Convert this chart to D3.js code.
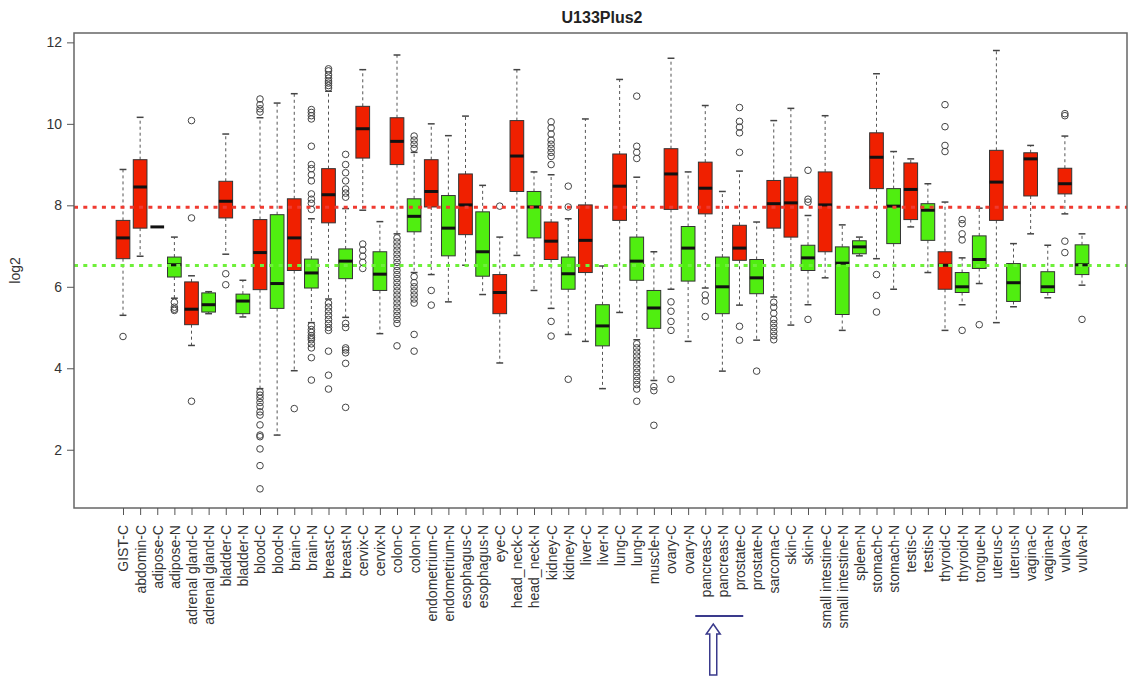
<!DOCTYPE html>
<html>
<head>
<meta charset="utf-8">
<script src="https://cdn.jsdelivr.net/npm/d3@7"></script>
<style>
  body { margin: 0; background: #fff; }
  svg { font-family: "Liberation Sans", Arial, sans-serif; }
</style>
</head>
<body>
<div id="chart"></div>
<script>
// Tissue categories (C = cancer, N = normal).
var categories = ["GIST-C", "abdomin-C", "adipose-C", "adipose-N", "adrenal gland-C", "adrenal gland-N",
  "bladder-C", "bladder-N", "blood-C", "blood-N", "brain-C", "brain-N", "breast-C", "breast-N",
  "cervix-C", "cervix-N", "colon-C", "colon-N", "endometrium-C", "endometrium-N", "esophagus-C",
  "esophagus-N", "eye-C", "head_neck-C", "head_neck-N", "kidney-C", "kidney-N", "liver-C", "liver-N",
  "lung-C", "lung-N", "muscle-N", "ovary-C", "ovary-N", "pancreas-C", "pancreas-N", "prostate-C",
  "prostate-N", "sarcoma-C", "skin-C", "skin-N", "small intestine-C", "small intestine-N", "spleen-N",
  "stomach-C", "stomach-N", "testis-C", "testis-N", "thyroid-C", "thyroid-N", "tongue-N", "uterus-C",
  "uterus-N", "vagina-C", "vagina-N", "vulva-C", "vulva-N"];

// Box statistics (log2).
var whiskerLow = [5.3, 6.75, 7.47, 5.72, 4.56, 5.34, 6.8, 5.26, 3.5, 2.36, 3.94, 5.12, 5.7, 5.25,
  7.88, 4.85, 7.3, 6.35, 6.3, 5.63, 6.53, 5.81, 4.13, 6.77, 5.91, 5.47, 4.83, 4.66, 3.5,
  5.37, 4.7, 3.7, 5.94, 4.66, 5.97, 3.93, 5.55, 4.69, 5.75, 5.06, 5.56, 6.22, 4.93, 6.76,
  6.69, 5.94, 7.47, 6.35, 4.93, 5.56, 6.08, 5.12, 5.51, 7.3, 5.73, 7.79, 6.04];
var quart1 = [6.69, 7.44, 7.47, 6.24, 5.07, 5.38, 7.69, 5.34, 5.93, 5.47, 6.4, 5.97, 7.57, 6.2,
  9.16, 5.91, 9.0, 7.35, 7.96, 6.76, 7.28, 6.26, 5.34, 8.34, 7.2, 6.67, 5.94, 6.35, 4.55,
  7.63, 6.16, 4.98, 7.9, 6.14, 7.79, 5.34, 6.65, 5.83, 7.44, 7.22, 6.4, 6.86, 5.32, 6.81,
  8.41, 7.06, 7.65, 7.14, 5.94, 5.86, 6.45, 7.63, 5.64, 8.23, 5.86, 8.28, 6.3];
var medians = [7.2, 8.45, 7.47, 6.54, 5.45, 5.56, 8.1, 5.65, 6.84, 6.08, 7.2, 6.34, 8.26, 6.63,
  9.88, 6.31, 9.57, 7.73, 8.34, 7.44, 8.01, 6.86, 5.86, 9.21, 7.96, 7.12, 6.32, 7.14, 5.04,
  8.47, 6.63, 5.48, 8.77, 6.95, 8.42, 6.0, 6.95, 6.22, 8.04, 8.06, 6.71, 8.01, 6.58, 6.98,
  9.18, 7.98, 8.39, 7.88, 6.53, 6.0, 6.67, 8.57, 6.1, 9.14, 6.0, 8.53, 6.54];
var quart3 = [7.63, 9.12, 7.47, 6.73, 6.12, 5.85, 8.59, 5.82, 7.65, 7.77, 8.16, 6.68, 8.9, 6.93,
  10.43, 6.86, 10.15, 8.16, 9.12, 8.24, 8.77, 7.84, 6.3, 10.08, 8.34, 7.59, 6.73, 8.01, 5.56,
  9.26, 7.22, 5.91, 9.39, 7.48, 9.06, 6.73, 7.51, 6.67, 8.61, 8.69, 7.02, 8.82, 6.98, 7.13,
  9.78, 8.41, 9.04, 8.04, 6.86, 6.35, 7.25, 9.35, 6.57, 9.29, 6.37, 8.91, 7.03];
var whiskerHigh = [8.88, 10.16, 7.47, 7.22, 6.27, 5.88, 9.75, 6.16, 10.15, 10.51, 10.74, 7.67, 10.8, 7.92,
  11.33, 7.6, 11.69, 9.3, 10.0, 9.71, 10.19, 8.49, 7.22, 11.33, 8.82, 8.75, 7.67, 10.12, 6.51,
  11.09, 8.69, 6.86, 11.61, 8.82, 10.45, 8.34, 8.84, 7.59, 10.08, 10.38, 7.75, 10.2, 7.52, 7.22,
  11.23, 9.32, 9.14, 8.53, 8.08, 6.71, 7.93, 11.8, 7.06, 9.47, 7.02, 9.7, 7.3];
var outliers = [
  [4.78], [], [], [5.62, 5.5, 5.45, 5.42], [10.08, 7.69, 3.19], [], [6.32, 6.05], [],
  [10.61, 10.47, 10.37, 10.29, 3.42, 3.34, 3.26, 3.16, 3.06, 2.93, 2.85, 2.61, 2.36, 2.32, 2.02, 1.61, 1.04],
  [], [3.01],
  [10.35, 10.28, 10.2, 10.12, 9.45, 9.0, 8.9, 8.75, 8.6, 8.28, 8.15, 8.05, 7.9, 5.05, 4.95, 4.88, 4.8, 4.75, 4.7, 4.6, 4.5, 4.26, 3.71],
  [11.35, 11.3, 11.2, 11.12, 11.05, 11.0, 10.94, 10.88, 5.6, 5.5, 5.4, 5.3, 5.2, 5.1, 5.0, 4.93, 4.42, 3.83, 3.49],
  [9.25, 9.0, 8.8, 8.6, 8.4, 8.3, 8.2, 5.1, 5.0, 4.5, 4.45, 4.38, 4.12, 3.04],
  [7.05, 6.9, 6.75, 6.6, 6.45], [],
  [7.2, 7.1, 7.0, 6.9, 6.8, 6.7, 6.6, 6.5, 6.4, 6.3, 6.2, 6.1, 6.0, 5.9, 5.8, 5.7, 5.6, 5.5, 5.4, 5.3, 5.2, 5.1, 4.55],
  [9.7, 9.6, 9.5, 9.4, 6.25, 6.1, 6.0, 5.9, 5.8, 5.7, 5.6, 4.83, 4.42],
  [5.91, 5.55], [], [], [], [7.98], [], [],
  [10.05, 9.9, 9.75, 9.6, 9.5, 9.4, 9.3, 9.2, 9.0, 5.15, 4.79],
  [8.47, 7.96, 3.73], [], [], [],
  [10.68, 9.45, 9.3, 9.15, 4.6, 4.5, 4.4, 4.3, 4.2, 4.1, 4.0, 3.9, 3.8, 3.7, 3.6, 3.49, 3.19],
  [3.55, 3.45, 2.6], [5.63, 5.4, 5.15, 4.93, 3.73], [], [5.8, 5.65, 5.27], [],
  [10.4, 10.06, 9.92, 9.78, 9.3, 5.03, 4.69], [3.93],
  [5.62, 5.5, 5.35, 5.2, 5.1, 5.0, 4.9, 4.8, 4.7], [], [8.86, 8.15, 8.08, 5.2], [], [], [],
  [6.3, 5.79, 5.38], [], [], [], [10.47, 9.93, 9.47, 9.32], [7.65, 7.55, 7.3, 7.15, 4.93], [5.07],
  [], [], [], [], [10.25, 10.2, 7.12, 6.84], [5.2]
];

// Reference levels (dotted lines).
var cancerLevel = 7.95;
var normalLevel = 6.52;
var yTicks = [2, 4, 6, 8, 10, 12];

// Setup plot and window margins.
var svgWidth = 1128;
var svgHeight = 679;
var margin = ({ top: 33, right: 1, bottom: 171, left: 74 });
var width = svgWidth - margin.left - margin.right;
var height = svgHeight - margin.top - margin.bottom;

var red = "#f02000";
var green = "#50ee10";

// Scales: R pads the axis range by 4% on each side.
var xScale = d3.scalePoint()
  .domain(categories)
  .range([49, 1008]);
var step = xScale.step();
var boxWidth = step * 0.8;

var yScale = d3.scaleLinear()
  .domain([0.57, 12.23])
  .range([height, 0]);

var svg = d3.select("#chart").append("svg")
  .attr("width", svgWidth)
  .attr("height", svgHeight);

var g = svg.append("g")
  .attr("transform", "translate(" + margin.left + "," + margin.top + ")");

// Title.
svg.append("text")
  .attr("x", 602)
  .attr("y", 23)
  .attr("text-anchor", "middle")
  .style("font-weight", "bold")
  .style("font-size", "16px")
  .style("fill", "#222")
  .text("U133Plus2");

// Build one record per category for the data join.
var boxes = categories.map(function(c, i) {
  return {
    name: c,
    lo: whiskerLow[i], q1: quart1[i], med: medians[i], q3: quart3[i], hi: whiskerHigh[i],
    out: outliers[i],
    fill: /-C$/.test(c) ? red : green
  };
});

var box = g.selectAll(".box")
  .data(boxes)
  .enter().append("g")
  .attr("class", "box")
  .attr("transform", function(d) { return "translate(" + xScale(d.name) + ",0)"; });

// Dashed whiskers.
box.append("line")
  .attr("y1", function(d) { return yScale(d.q3); })
  .attr("y2", function(d) { return yScale(d.hi); })
  .attr("stroke", "#555")
  .attr("stroke-dasharray", "3,3");
box.append("line")
  .attr("y1", function(d) { return yScale(d.q1); })
  .attr("y2", function(d) { return yScale(d.lo); })
  .attr("stroke", "#555")
  .attr("stroke-dasharray", "3,3");

// Staples.
box.selectAll(".staple")
  .data(function(d) { return [d.lo, d.hi]; })
  .enter().append("line")
  .attr("class", "staple")
  .attr("x1", -boxWidth / 4)
  .attr("x2", boxWidth / 4)
  .attr("y1", function(v) { return yScale(v); })
  .attr("y2", function(v) { return yScale(v); })
  .attr("stroke", "#444")
  .attr("stroke-width", 1.5);

// Boxes.
box.append("rect")
  .attr("x", -boxWidth / 2)
  .attr("width", boxWidth)
  .attr("y", function(d) { return yScale(d.q3); })
  .attr("height", function(d) { return yScale(d.q1) - yScale(d.q3); })
  .attr("fill", function(d) { return d.fill; })
  .attr("stroke", "#333")
  .attr("stroke-width", 1);

// Medians.
box.append("line")
  .attr("x1", -boxWidth / 2)
  .attr("x2", boxWidth / 2)
  .attr("y1", function(d) { return yScale(d.med); })
  .attr("y2", function(d) { return yScale(d.med); })
  .attr("stroke", "#111")
  .attr("stroke-width", 3);

// Outliers as open circles.
box.selectAll(".outlier")
  .data(function(d) { return d.out; })
  .enter().append("circle")
  .attr("class", "outlier")
  .attr("cy", function(v) { return yScale(v); })
  .attr("r", 3.3)
  .attr("fill", "none")
  .attr("stroke", "#444")
  .attr("stroke-width", 1);

// Dotted reference lines, drawn over the boxes.
g.append("line")
  .attr("x1", 0).attr("x2", width)
  .attr("y1", yScale(cancerLevel)).attr("y2", yScale(cancerLevel))
  .attr("stroke", "#f03a30")
  .attr("stroke-width", 3)
  .attr("stroke-dasharray", "4,5.3");
g.append("line")
  .attr("x1", 0).attr("x2", width)
  .attr("y1", yScale(normalLevel)).attr("y2", yScale(normalLevel))
  .attr("stroke", "#6ef03a")
  .attr("stroke-width", 3)
  .attr("stroke-dasharray", "4,5.3");

// Plot frame.
g.append("rect")
  .attr("width", width)
  .attr("height", height)
  .attr("fill", "none")
  .attr("stroke", "#666")
  .attr("stroke-width", 1.5);

// Y axis (the frame already draws the axis line).
var yAxis = g.append("g")
  .call(d3.axisLeft(yScale).tickValues(yTicks).tickSize(7).tickSizeOuter(0).tickPadding(5).tickFormat(d3.format("d")));
yAxis.select(".domain").remove();
yAxis.selectAll(".tick line").attr("stroke", "#555");
yAxis.selectAll("text")
  .style("font-size", "14px")
  .style("fill", "#333")
  .style("font-family", "Liberation Sans, Arial, sans-serif");

// Y-axis title.
svg.append("text")
  .attr("transform", "translate(20," + (margin.top + height / 2) + ") rotate(-90)")
  .attr("text-anchor", "middle")
  .style("font-size", "14px")
  .style("fill", "#333")
  .text("log2");

// X axis with vertical tick labels.
var xAxis = g.append("g")
  .attr("transform", "translate(0," + height + ")")
  .call(d3.axisBottom(xScale).tickSize(7).tickSizeOuter(0));
xAxis.select(".domain").remove();
xAxis.selectAll(".tick line").attr("stroke", "#555");
xAxis.selectAll("text")
  .attr("transform", "rotate(-90)")
  .attr("x", -17)
  .attr("y", 0)
  .attr("dy", "0.35em")
  .attr("text-anchor", "end")
  .style("font-size", "14px")
  .style("fill", "#333")
  .style("font-family", "Liberation Sans, Arial, sans-serif");

// Annotation: underline and hollow arrow pointing at the pancreas labels.
var px = margin.left + xScale("pancreas-C");
var annot = svg.append("g").attr("stroke", "#3a3a8c");
annot.append("line")
  .attr("x1", px - 10).attr("x2", px + 38)
  .attr("y1", 616).attr("y2", 616)
  .attr("stroke-width", 2);
var ax = px + 8;
annot.append("path")
  .attr("d", "M" + ax + ",624 L" + (ax + 7) + ",634 L" + (ax + 3.5) + ",634 L" + (ax + 3.5) + ",675 L" +
    (ax - 3.5) + ",675 L" + (ax - 3.5) + ",634 L" + (ax - 7) + ",634 Z")
  .attr("fill", "#fff")
  .attr("stroke-width", 1.5);
</script>
</body>
</html>
